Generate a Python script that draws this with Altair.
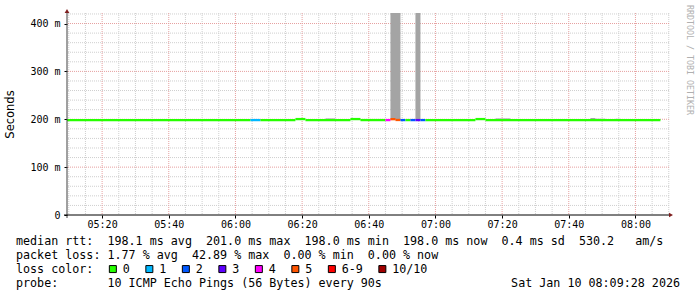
import altair as alt
import pandas as pd

MONO = "DejaVu Sans Mono"
SANS = "DejaVu Sans"
NB = "\u00a0"

# time axis in minutes after midnight (05:09:28 .. 08:10:04)
T0, T1 = 309.467, 490.067

# median rtt runs (minutes after midnight), value in ms, loss class
run_start = [309.0, 364.5, 367.5, 378.0, 381.0, 394.5, 397.5, 405.0, 406.5, 408.0,
             409.5, 411.0, 412.5, 414.0, 415.5, 417.0, 432.0, 435.0]
run_end = [364.5, 367.5, 378.0, 381.0, 394.5, 397.5, 405.0, 406.5, 408.0, 409.5,
           411.0, 412.5, 414.0, 415.5, 417.0, 432.0, 435.0, 487.5]
run_median = [198.3, 198.3, 198.3, 200.4, 198.3, 200.4, 198.3, 198.3, 200.2, 198.5,
              198.3, 198.3, 198.3, 198.3, 198.3, 198.3, 200.4, 198.3]
run_loss = ["0", "1", "0", "0", "0", "0", "0", "4", "5", "5",
            "2", "0", "2", "3", "2", "0", "0", "0"]

# smoke (spread of pings)
smoke_start = [387.0, 406.5, 414.0, 438.0, 466.5, 468.0, 474.0]
smoke_end = [390.0, 409.5, 415.5, 442.5, 468.0, 471.0, 475.5]
smoke_low = [198.0, 199.0, 199.0, 198.0, 198.0, 198.0, 198.0]
smoke_high = [201.8, 440.0, 440.0, 201.8, 202.6, 201.2, 201.0]

loss_domain = ["0", "1", "2", "3", "4", "5", "6-9", "10/10"]
loss_colors = ["#26ff00", "#00b8ff", "#0059ff", "#5e00ff", "#ff00ff", "#ff5500", "#ff0000", "#a10000"]

x_major = [320, 340, 360, 380, 400, 420, 440, 460, 480]
x_minor = [m for m in range(310, 491, 5) if m % 20]
y_major = [100, 200, 300, 400]
y_minor = [v for v in range(20, 421, 20) if v % 100]
y_ticks = [0, 100, 200, 300, 400]

legend_lines = [
    "median rtt:  198.1 ms avg  201.0 ms max  198.0 ms min  198.0 ms now  0.4 ms sd  530.2   am/s",
    "packet loss: 1.77 % avg  42.89 % max  0.00 % min  0.00 % now",
    "loss color:",
    "probe:       10 ICMP Echo Pings (56 Bytes) every 90s",
]
date_text = "Sat Jan 10 08:09:28 2026"
watermark = "RRDTOOL / TOBI OETIKER"

xs = alt.Scale(domain=[T0, T1], nice=False, zero=False)
ys = alt.Scale(domain=[0, 422], nice=False, zero=True)

x_axis = alt.Axis(
    values=x_major,
    labelExpr="(floor(datum.value/60) < 10 ? '0' : '') + floor(datum.value/60) + ':' + (datum.value % 60 < 10 ? '0' : '') + (datum.value % 60)",
    grid=False, domain=False, ticks=True, tickSize=3, tickColor="black",
    labelFont=MONO, labelFontSize=10, labelColor="black", labelPadding=1, title=None,
)
y_axis = alt.Axis(
    values=y_ticks,
    labelExpr="datum.value == 0 ? '0" + NB + NB + "' : datum.value + '" + NB + "m'",
    grid=False, domain=False, ticks=True, tickSize=3, tickColor="black",
    labelFont=MONO, labelFontSize=10, labelColor="black", labelPadding=4,
    titleFont=SANS, titleFontSize=11.5, titleFontWeight="normal", titleColor="black",
    titleAngle=270, titleX=-57, titleY=101, titleAlign="center", titleBaseline="middle",
)


def X(field):
    return alt.X(field, type="quantitative", scale=xs, axis=x_axis)


def Y(field):
    return alt.Y(field, type="quantitative", scale=ys, axis=y_axis, title="Seconds")


one = pd.DataFrame({"k": [0]})

MINOR = "#cfcfcf"
MAJOR = "#e6a0a0"

gx_minor = alt.Chart(pd.DataFrame({"v": x_minor})).mark_rule(
    color=MINOR, strokeDash=[1, 1], strokeWidth=1).encode(x=X("v"))
gy_minor = alt.Chart(pd.DataFrame({"v": y_minor})).mark_rule(
    color=MINOR, strokeDash=[1, 1], strokeWidth=1).encode(y=Y("v"))
gx_major = alt.Chart(pd.DataFrame({"v": x_major})).mark_rule(
    color=MAJOR, strokeDash=[1, 1], strokeWidth=1).encode(x=X("v"))
gy_major = alt.Chart(pd.DataFrame({"v": y_major})).mark_rule(
    color=MAJOR, strokeDash=[1, 1], strokeWidth=1).encode(y=Y("v"))

smoke = alt.Chart(pd.DataFrame({"s0": smoke_start, "s1": smoke_end,
                                "lo": smoke_low, "hi": smoke_high})).mark_rect(
    color="#a4a4a4", clip=True).encode(x=X("s0"), x2="s1", y=Y("lo"), y2="hi")

segs = alt.Chart(pd.DataFrame({"t0": run_start, "t1": run_end,
                               "med": run_median, "loss": run_loss})).transform_calculate(
    lo="datum.med - 2.4", hi="datum.med + 2.4"
).mark_rect(clip=True).encode(
    x=X("t0"), x2="t1", y=Y("lo"), y2="hi",
    color=alt.Color("loss:N", scale=alt.Scale(domain=loss_domain, range=loss_colors),
                    legend=alt.Legend(orient="none", legendX=40, legendY=250,
                                      direction="horizontal", columns=8, title=None,
                                      symbolType="square", symbolSize=49,
                                      symbolStrokeColor="black", symbolStrokeWidth=1,
                                      labelFont=MONO, labelFontSize=11.7, labelColor="black",
                                      labelOffset=4, columnPadding=13.5, rowPadding=0,
                                      padding=0, symbolOffset=0)),
)

# axis lines and arrows
y_line = alt.Chart(one).mark_rule(color="#404040", strokeWidth=1).encode(
    x=alt.value(0), y=alt.value(-2), y2=alt.value(205))
x_line = alt.Chart(one).mark_rule(color="black", strokeWidth=1).encode(
    x=alt.value(-3), x2=alt.value(602), y=alt.value(202))
arrow_up = alt.Chart(one).mark_point(shape="triangle-up", filled=True, size=22,
                                      color="#7f1f1f", opacity=1).encode(
    x=alt.value(0), y=alt.value(-2))
arrow_right = alt.Chart(one).mark_point(shape="triangle-right", filled=True, size=22,
                                         color="#7f1f1f", opacity=1).encode(
    x=alt.value(604), y=alt.value(202))

texts = []
baselines = [245, 259, 273, 287]
for line, base in zip(legend_lines, baselines):
    texts.append(alt.Chart(one).mark_text(
        font=MONO, fontSize=11.7, color="black", align="left", baseline="alphabetic").encode(
        x=alt.value(16 - 67), y=alt.value(base - 13), text=alt.value(line.replace(" ", NB))))
texts.append(alt.Chart(one).mark_text(
    font=MONO, fontSize=11.7, color="black", align="right", baseline="alphabetic").encode(
    x=alt.value(680 - 67), y=alt.value(287 - 13), text=alt.value(date_text.replace(" ", NB))))
texts.append(alt.Chart(one).mark_text(
    font=MONO, fontSize=8.3, color="#b0b0b0", align="left", baseline="middle", angle=90).encode(
    x=alt.value(689 - 67), y=alt.value(5 - 13), text=alt.value(watermark.replace(" ", NB))))

chart = alt.layer(
    gx_minor, gy_minor, gx_major, gy_major, smoke, segs,
    y_line, x_line, arrow_up, arrow_right, *texts
).properties(
    width=602, height=202,
    padding={"left": 67, "top": 13, "right": 28, "bottom": 82},
    autosize=alt.AutoSizeParams(type="none"),
    background="white",
).configure_view(strokeWidth=0)

chart.save("out.html", embed_options={"renderer": "svg", "actions": False})
